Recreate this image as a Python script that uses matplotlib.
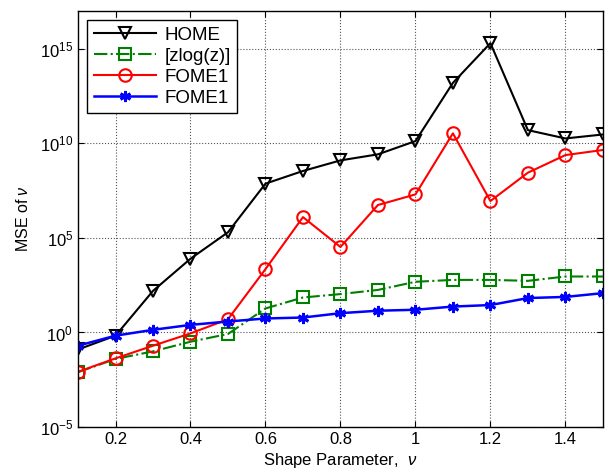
import matplotlib
matplotlib.use('Agg')
import matplotlib.pyplot as plt
import numpy as np
from matplotlib.ticker import FixedLocator, NullLocator

plt.rcParams['font.family'] = ['Liberation Sans', 'DejaVu Sans']
plt.rcParams['mathtext.fontset'] = 'custom'
plt.rcParams['mathtext.rm'] = 'Liberation Sans'
plt.rcParams['mathtext.it'] = 'Liberation Sans:italic'

# shape parameter values
nu = [0.1, 0.2, 0.3, 0.4, 0.5, 0.6, 0.7, 0.8, 0.9, 1.0, 1.1, 1.2, 1.3, 1.4, 1.5]

# log10 of the MSE
home_log = [-0.9, -0.17, 2.2, 3.9, 5.3, 7.87, 8.54, 9.1, 9.42, 10.12, 13.2, 15.3, 10.7, 10.26, 10.47]
zlog_log = [-2.1, -1.4, -1.0, -0.49, -0.08, 1.27, 1.85, 2.03, 2.25, 2.68, 2.78, 2.78, 2.73, 2.96, 2.96]
fome_red_log = [-2.08, -1.37, -0.7, -0.05, 0.7, 3.35, 6.1, 4.52, 6.74, 7.3, 10.53, 6.95, 8.45, 9.38, 9.65]
fome_blue_log = [-0.7, -0.17, 0.14, 0.4, 0.58, 0.74, 0.79, 1.02, 1.15, 1.2, 1.37, 1.45, 1.82, 1.88, 2.08]

labels = ['HOME', '[zlog(z)]', 'FOME1', 'FOME1']

fig = plt.figure(figsize=(6.11, 4.72), dpi=100)
ax = fig.add_axes([0.1277, 0.0953, 0.859, 0.8814])

ax.plot(nu, 10.0 ** np.array(home_log), color='black', marker='v', mfc='none',
        ms=9, mew=1.5, lw=1.5, label=labels[0])
ax.plot(nu, 10.0 ** np.array(zlog_log), color='#008000', marker='s', mfc='none',
        ms=8, mew=1.5, lw=1.5, linestyle='-.', label=labels[1])
ax.plot(nu, 10.0 ** np.array(fome_red_log), color='red', marker='o', mfc='none',
        ms=9, mew=1.5, lw=1.5, label=labels[2])
ax.plot(nu, 10.0 ** np.array(fome_blue_log), color='blue', marker=(6, 2, 0),
        ms=8, mew=2, lw=1.8, label=labels[3])

ax.set_yscale('log')
ax.set_xlim(0.1, 1.5)
ax.set_ylim(1e-5, 1e17)
ax.xaxis.set_major_locator(FixedLocator([0.2, 0.4, 0.6, 0.8, 1.0, 1.2, 1.4]))
ax.set_xticklabels(['0.2', '0.4', '0.6', '0.8', '1', '1.2', '1.4'])
ax.yaxis.set_major_locator(FixedLocator([1e-5, 1e0, 1e5, 1e10, 1e15]))
ax.yaxis.set_minor_locator(NullLocator())
ax.tick_params(direction='in', top=True, right=True, labelsize=12, length=4)

ax.grid(True, color='#555555', linestyle=':', linewidth=0.8)
for s in ax.spines.values():
    s.set_linewidth(1.0)

ax.set_xlabel(r'Shape Parameter,  $\mathit{\nu}$', fontsize=12, labelpad=3)
ax.set_ylabel(r'MSE of $\nu$', fontsize=11.5, labelpad=6)

leg = ax.legend(loc='upper left', fontsize=13.5, fancybox=False, framealpha=1,
                edgecolor='black', borderpad=0.35, handlelength=3.3,
                handletextpad=0.45, labelspacing=0.2,
                bbox_to_anchor=(0.0, 1.0))
leg.get_frame().set_linewidth(1.0)

fig.savefig('out.png', dpi=100)
